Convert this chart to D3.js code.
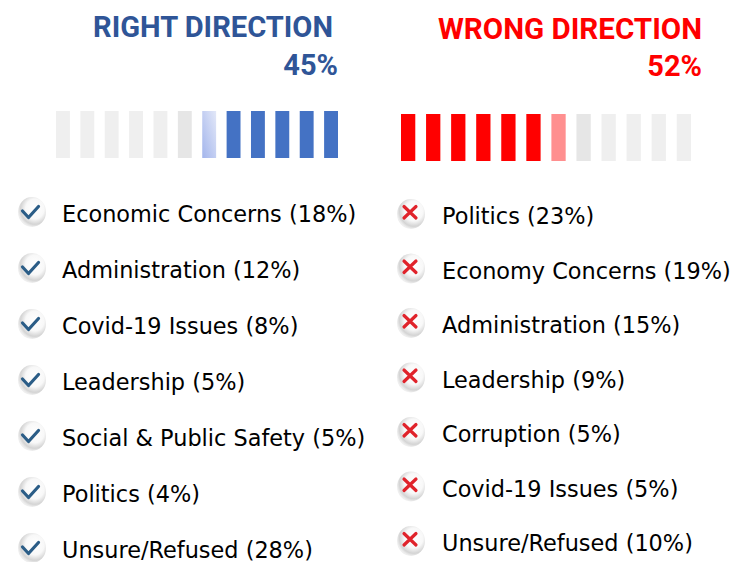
<!DOCTYPE html>
<html>
<head>
<meta charset="utf-8">
<script src="https://cdn.jsdelivr.net/npm/d3@7"></script>
<style>
  body { margin: 0; background: #fff; }
  svg { display: block; }
</style>
</head>
<body>
<div id="chart"></div>
<script>
var svgWidth = 736;
var svgHeight = 562;

// data
var panelTitles = ["RIGHT DIRECTION", "WRONG DIRECTION"];
var panelTotals = [45, 52];
var rightLabels = ["Economic Concerns", "Administration", "Covid-19 Issues", "Leadership",
  "Social & Public Safety", "Politics", "Unsure/Refused"];
var rightValues = [18, 12, 8, 5, 5, 4, 28];
var wrongLabels = ["Politics", "Economy Concerns", "Administration", "Leadership",
  "Corruption", "Covid-19 Issues", "Unsure/Refused"];
var wrongValues = [23, 19, 15, 9, 5, 5, 10];
var barSlots = d3.range(12);

var svg = d3.select("#chart")
  .append("svg")
  .attr("width", svgWidth)
  .attr("height", svgHeight);

var defs = svg.append("defs");

// partial bar gradient
var gBlue = defs.append("linearGradient").attr("id", "partBlue")
  .attr("x1", "0").attr("y1", "1").attr("x2", "1").attr("y2", "0");
gBlue.append("stop").attr("offset", "0%").attr("stop-color", "#a3b5ec");
gBlue.append("stop").attr("offset", "100%").attr("stop-color", "#e3e8f8");

// sphere behind icons
var sphere = defs.append("radialGradient").attr("id", "sphere")
  .attr("cx", "0.6").attr("cy", "0.4").attr("r", "0.6");
sphere.append("stop").attr("offset", "0%").attr("stop-color", "#ffffff");
sphere.append("stop").attr("offset", "55%").attr("stop-color", "#f8f8f8");
sphere.append("stop").attr("offset", "85%").attr("stop-color", "#d4d4d4");
sphere.append("stop").attr("offset", "100%").attr("stop-color", "#eeeeee");

var panels = [
  {
    title: panelTitles[0], total: panelTotals[0], labels: rightLabels, values: rightValues,
    titleColor: "#2f5597", barColor: "#4472c4", partFill: "url(#partBlue)",
    titleX: 333, titleY: 37, totalX: 338, totalY: 75, titleLen: 240,
    barRange: [56, 338], barY: 111, fromRight: true,
    textX: 62, iconX: 31, itemRange: [214, 550], icon: "check"
  },
  {
    title: panelTitles[1], total: panelTotals[1], labels: wrongLabels, values: wrongValues,
    titleColor: "#ff0000", barColor: "#ff0000", partFill: "#ff8f8f",
    titleX: 702, titleY: 39, totalX: 702, totalY: 76, titleLen: 264,
    barRange: [401, 691], barY: 114, fromRight: false,
    textX: 442, iconX: 410, itemRange: [216, 543], icon: "cross"
  }
];

panels.forEach(function(p) {
  var g = svg.append("g");

  // title and total
  g.append("text")
    .attr("x", p.titleX)
    .attr("y", p.titleY)
    .attr("text-anchor", "end")
    .attr("textLength", p.titleLen)
    .attr("lengthAdjust", "spacingAndGlyphs")
    .style("font-family", "Roboto, sans-serif")
    .style("font-weight", 700)
    .style("font-size", "30px")
    .style("fill", p.titleColor)
    .text(p.title);

  g.append("text")
    .attr("x", p.totalX)
    .attr("y", p.totalY)
    .attr("text-anchor", "end")
    .style("font-family", "Roboto, sans-serif")
    .style("font-weight", 700)
    .style("font-size", "29px")
    .style("fill", p.titleColor)
    .text(p.total + "%");

  // 12 segment meter
  var xBar = d3.scaleBand()
    .domain(barSlots)
    .range(p.barRange)
    .paddingInner(0.43)
    .paddingOuter(0);

  var filled = p.total / 100 * barSlots.length;
  var full = Math.floor(filled);

  g.selectAll("rect.seg")
    .data(barSlots)
    .enter()
    .append("rect")
    .attr("class", "seg")
    .attr("x", d => xBar(d))
    .attr("y", p.barY)
    .attr("width", xBar.bandwidth())
    .attr("height", 47)
    .style("fill", function(d) {
      var k = p.fromRight ? barSlots.length - 1 - d : d;
      if (k < full) return p.barColor;
      if (k === full) return p.partFill;
      return k === full + 1 ? "#e6e6e6" : "#efefef";
    });

  // reason list
  var yItem = d3.scalePoint()
    .domain(p.labels)
    .range(p.itemRange);

  var items = g.selectAll("g.item")
    .data(p.labels.map((l, i) => ({ label: l, value: p.values[i] })))
    .enter()
    .append("g")
    .attr("class", "item")
    .attr("transform", d => `translate(0, ${yItem(d.label)})`);

  items.append("ellipse")
    .attr("cx", p.iconX + 1)
    .attr("cy", -2)
    .attr("rx", 14)
    .attr("ry", 15)
    .style("fill", "url(#sphere)");

  if (p.icon === "check") {
    items.append("path")
      .attr("d", `M${p.iconX - 8.5},${-3} L${p.iconX - 2.5},${3.5} L${p.iconX + 7.5},${-7.5}`)
      .style("fill", "none")
      .style("stroke", "#2b5d87")
      .style("stroke-width", 3.2)
      .style("stroke-linecap", "round")
      .style("stroke-linejoin", "round");
  } else {
    items.append("path")
      .attr("d", `M${p.iconX - 6},${-9.5} L${p.iconX + 6},${2} M${p.iconX + 6},${-9.5} L${p.iconX - 6},${2}`)
      .style("fill", "none")
      .style("stroke", "#e0232b")
      .style("stroke-width", 3.2)
      .style("stroke-linecap", "round");
  }

  items.append("text")
    .attr("x", p.textX)
    .attr("y", 0)
    .attr("dy", "0.36em")
    .style("font-family", "'DejaVu Sans', Verdana, sans-serif")
    .style("font-size", "22.4px")
    .style("fill", "#000")
    .text(d => `${d.label} (${d.value}%)`);
});
</script>
</body>
</html>
